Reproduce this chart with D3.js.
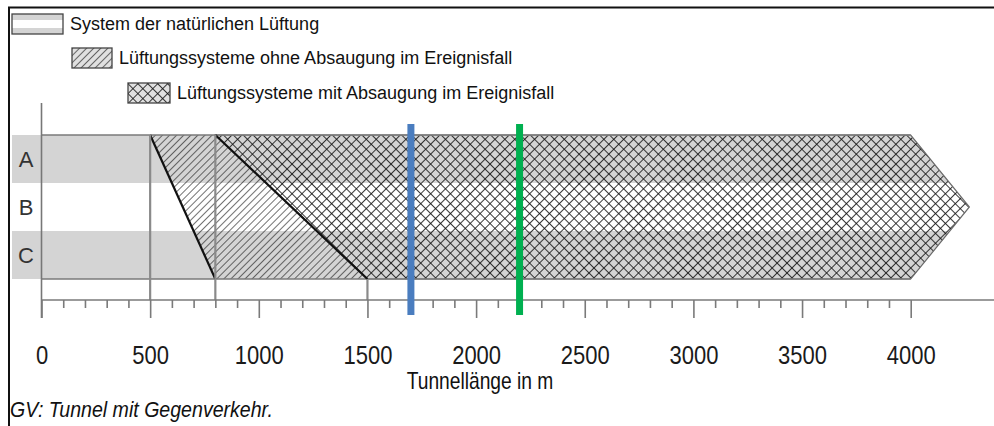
<!DOCTYPE html>
<html><head><meta charset="utf-8">
<script src="https://cdn.jsdelivr.net/npm/d3@7"></script>
<style>html,body{margin:0;padding:0;background:#fff}svg{display:block}</style>
</head><body>
<script>
// ---- data ----
const rows = ["A", "B", "C"];
const majorTicks = [0, 500, 1000, 1500, 2000, 2500, 3000, 3500, 4000];
const minorStep = 100;
const axisMax = 4000;
// boundary natural -> without extraction (top row value, bottom row value)
const boundary1 = [500, 800];
// boundary without -> with extraction
const boundary2 = [800, 1500];
// end of "mit Absaugung" region (top/bottom) and tip at middle
const crossEnd = 4000;
const crossTip = 4270;
const markers = [
  {value: 1700, color: "#4a7dbf"},
  {value: 2200, color: "#00b050"}
];
const legendItems = [
  {label: "System der natürlichen Lüftung", type: "natural"},
  {label: "Lüftungssysteme ohne Absaugung im Ereignisfall", type: "single"},
  {label: "Lüftungssysteme mit Absaugung im Ereignisfall", type: "cross"}
];
const xTitle = "Tunnellänge in m";
const footnote = "GV: Tunnel mit Gegenverkehr.";

(function () {
// ---- layout ----
const W = 994, H = 426;
const svg = d3.select("body").append("svg").attr("width", W).attr("height", H);
const defs = svg.append("defs");

const x = d3.scaleLinear().domain([0, axisMax]).range([41.5, 910.7]);
const y = d3.scaleBand().domain(rows).range([135, 279]);
const yTop = y.range()[0], yBot = y.range()[1], yMid = (yTop + yBot) / 2;
const axisY = 300;
const FONT = "'Liberation Sans', Arial, sans-serif";
const gray = "#d4d4d4";

// patterns
const pSingle = defs.append("pattern").attr("id", "single")
  .attr("patternUnits", "userSpaceOnUse").attr("width", 5).attr("height", 5)
  .attr("patternTransform", "rotate(45)");
pSingle.append("line").attr("x1", 0).attr("y1", 0).attr("x2", 0).attr("y2", 5)
  .attr("stroke", "#111").attr("stroke-width", 1.2);

const pCross = defs.append("pattern").attr("id", "cross")
  .attr("patternUnits", "userSpaceOnUse").attr("width", 7).attr("height", 7)
  .attr("patternTransform", "rotate(45)");
pCross.append("line").attr("x1", 0).attr("y1", 0).attr("x2", 0).attr("y2", 7)
  .attr("stroke", "#151515").attr("stroke-width", 1.7);
pCross.append("line").attr("x1", 0).attr("y1", 0).attr("x2", 7).attr("y2", 0)
  .attr("stroke", "#151515").attr("stroke-width", 1.7);

// frame (top + left)
svg.append("path").attr("d", `M9,426 V7.5 H994`).attr("fill", "none")
  .attr("stroke", "#111").attr("stroke-width", 2);

// legend
const legX = [12, 72, 128], legY = [14, 48, 83], legW = [51, 40, 42], legH = 20;
legendItems.forEach((d, i) => {
  const g = svg.append("g").attr("transform", `translate(${legX[i]},${legY[i]})`);
  if (d.type === "natural") {
    g.append("rect").attr("width", legW[i]).attr("height", legH).attr("fill", gray);
    g.append("rect").attr("y", legH * 0.3).attr("width", legW[i]).attr("height", legH * 0.4).attr("fill", "#fff");
  } else {
    g.append("rect").attr("width", legW[i]).attr("height", legH).attr("fill", "#e0e0e0");
    g.append("rect").attr("width", legW[i]).attr("height", legH).attr("fill", `url(#${d.type})`);
  }
  g.append("rect").attr("width", legW[i]).attr("height", legH).attr("fill", "none")
    .attr("stroke", "#444").attr("stroke-width", 1.3);
  svg.append("text").attr("x", legX[i] + legW[i] + 7).attr("y", legY[i] + 16)
    .attr("font-family", FONT).attr("font-size", 18).attr("fill", "#111").text(d.label);
});

// clip of the total area
const outline = [[12, yTop], [x(crossEnd), yTop], [x(crossTip), yMid], [x(crossEnd), yBot], [12, yBot]];
defs.append("clipPath").attr("id", "area").append("polygon")
  .attr("points", outline.map(p => p.join(",")).join(" "));

// bands
svg.append("g").attr("clip-path", "url(#area)").selectAll("rect")
  .data(rows.filter((r, i) => i !== 1)).join("rect")
  .attr("x", 12).attr("width", x(crossTip) - 12)
  .attr("y", d => y(d)).attr("height", y.bandwidth()).attr("fill", gray);

// single hatch polygon
const singlePoly = [[x(boundary1[0]), yTop], [x(boundary2[0]), yTop], [x(boundary2[1]), yBot], [x(boundary1[1]), yBot]];
svg.append("polygon").attr("points", singlePoly.map(p => p.join(",")).join(" "))
  .attr("fill", "url(#single)");

// cross hatch polygon
const crossPoly = [[x(boundary2[0]), yTop], [x(crossEnd), yTop], [x(crossTip), yMid], [x(crossEnd), yBot], [x(boundary2[1]), yBot]];
svg.append("polygon").attr("points", crossPoly.map(p => p.join(",")).join(" "))
  .attr("fill", "url(#cross)").attr("stroke", "#6a6a6a").attr("stroke-width", 1.2);

// horizontal border lines
[yTop, yBot].forEach(yy => svg.append("line").attr("x1", x(0)).attr("x2", x(crossEnd))
  .attr("y1", yy).attr("y2", yy).attr("stroke", "#7a7a7a").attr("stroke-width", 1.3));

// thick diagonal boundaries
[boundary1, boundary2].forEach(b => svg.append("line")
  .attr("x1", x(b[0])).attr("y1", yTop).attr("x2", x(b[1])).attr("y2", yBot)
  .attr("stroke", "#111").attr("stroke-width", 2.2));

// vertical gray guides
svg.append("line").attr("x1", x(boundary1[0])).attr("x2", x(boundary1[0])).attr("y1", yTop).attr("y2", axisY)
  .attr("stroke", "#8a8a8a").attr("stroke-width", 2.2);
svg.append("line").attr("x1", x(boundary1[1])).attr("x2", x(boundary1[1])).attr("y1", yTop).attr("y2", axisY)
  .attr("stroke", "#8a8a8a").attr("stroke-width", 2.2);
svg.append("line").attr("x1", x(boundary2[1])).attr("x2", x(boundary2[1])).attr("y1", yBot).attr("y2", axisY)
  .attr("stroke", "#8a8a8a").attr("stroke-width", 2.2);

// y axis line
svg.append("line").attr("x1", x(0)).attr("x2", x(0)).attr("y1", 103).attr("y2", 318)
  .attr("stroke", "#777").attr("stroke-width", 1.6);

// row labels
svg.selectAll("text.row").data(rows).join("text").attr("class", "row")
  .attr("x", 26).attr("y", d => y(d) + y.bandwidth() / 2 + 8)
  .attr("text-anchor", "middle").attr("font-family", FONT).attr("font-size", 22)
  .attr("fill", "#333").text(d => d);

// x axis
svg.append("line").attr("x1", x(0)).attr("x2", W).attr("y1", axisY).attr("y2", axisY)
  .attr("stroke", "#7a7a7a").attr("stroke-width", 1.6);
const minorTicks = d3.range(0, axisMax + 1, minorStep).filter(v => v % 500 !== 0);
const axisMinor = d3.axisBottom(x).tickValues(minorTicks).tickSize(8).tickFormat("");
const axisMajor = d3.axisBottom(x).tickValues(majorTicks).tickSize(18).tickPadding(28)
  .tickFormat(d3.format("d"));
const gMin = svg.append("g").attr("transform", `translate(0,${axisY})`).call(axisMinor);
const gMaj = svg.append("g").attr("transform", `translate(0,${axisY})`).call(axisMajor);
[gMin, gMaj].forEach(g => {
  g.select(".domain").remove();
  g.selectAll(".tick line").attr("stroke", "#7a7a7a").attr("stroke-width", 1.6);
});
gMaj.selectAll(".tick text").attr("font-family", FONT).attr("font-size", 25)
  .attr("fill", "#1a1a1a").attr("transform", "scale(0.88,1)");

// marker lines
svg.selectAll("line.marker").data(markers).join("line").attr("class", "marker")
  .attr("x1", d => x(d.value)).attr("x2", d => x(d.value))
  .attr("y1", 124).attr("y2", 315).attr("stroke", d => d.color).attr("stroke-width", 7);

// titles
svg.append("text").attr("transform", "translate(480,389) scale(0.8,1)").attr("text-anchor", "middle")
  .attr("font-family", FONT).attr("font-size", 24).attr("fill", "#111").text(xTitle);
svg.append("text").attr("transform", "translate(10,417) scale(0.89,1)")
  .attr("font-family", FONT).attr("font-size", 22).attr("font-style", "italic")
  .attr("fill", "#111").text(footnote);
})();
</script>
</body></html>
